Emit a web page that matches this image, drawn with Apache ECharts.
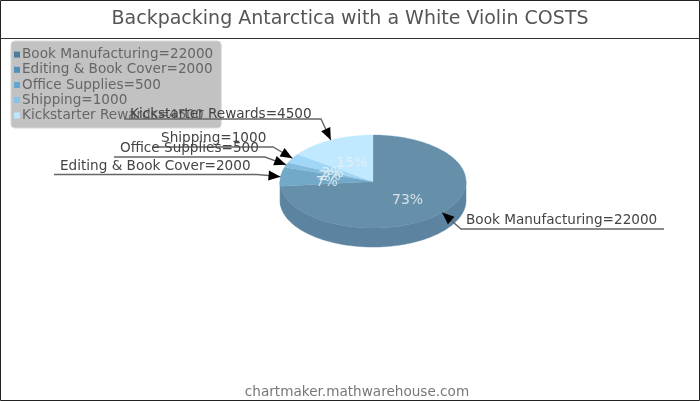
<!DOCTYPE html>
<html><head><meta charset="utf-8">
<style>html,body{margin:0;padding:0;background:#fff}#c{width:700px;height:401px}</style>
<script src="https://cdn.jsdelivr.net/npm/echarts@6/dist/echarts.min.js"></script>
</head><body><div id="c"></div>
<script>
const chartTitle = 'Backpacking Antarctica with a White Violin COSTS';
const footer = 'chartmaker.mathwarehouse.com';
const categories = ['Book Manufacturing','Editing & Book Cover','Office Supplies','Shipping','Kickstarter Rewards'];
const values = [22000,2000,500,1000,4500];
const percentLabels = ['73%','7%','2%','3%','15%'];
const topColors = ['#6690aa','#72a9c9','#83bcdf','#a0d6f6','#c0e9ff'];
const wallColors = ['#5c84a0','#5c84a0','#5c84a0','#5c84a0','#5c84a0'];
const swatchColors = ['#4a7c9c','#4f8fb8','#62a6d2','#84c4ea','#bce8ff'];
// leader layout: elbow x, line y, far end x, text x (left), text y (centre)
const leaders = [
  {elbow:[461,229], end:664, tx:466, ty:220.5},
  {elbow:[257,174.5], end:54, tx:60, ty:166.5},
  {elbow:[265,157], end:114, tx:120, ty:148.5},
  {elbow:[273,147], end:153, tx:161, ty:138.5},
  {elbow:[321,119], end:124, tx:130, ty:114.5}
];
const cx=373, cy=181.5, rx=93, ry=46.5, depth=19;
const font='"DejaVu Sans"';
const total = values.reduce((a,b)=>a+b,0);
const pt=(t,dy=0,k=1)=>{const r=t*Math.PI/180;return [cx+rx*k*Math.sin(r),cy-ry*k*Math.cos(r)+dy];};
const arc=(a,b,dy=0)=>{const n=Math.max(2,Math.ceil((b-a)/2)),o=[];for(let i=0;i<=n;i++)o.push(pt(a+(b-a)*i/n,dy));return o;};

function renderSlice(params){
  const i=params.seriesIndex;
  const a=values.slice(0,i).reduce((s,v)=>s+v,0)/total*360;
  const b=a+values[i]/total*360, mid=(a+b)/2;
  const ch=[];
  const wa=Math.max(a,90), wb=Math.min(b,270);
  if(wb>wa){
    ch.push({type:'polygon',z2:0,shape:{points:arc(wa,wb).concat(arc(wa,wb,depth).reverse())},
      style:{fill:wallColors[i],stroke:wallColors[i],lineWidth:0.5}});
  }
  ch.push({type:'polygon',z2:1,shape:{points:[[cx,cy]].concat(arc(a,b))},style:{fill:topColors[i],stroke:topColors[i],lineWidth:0.3}});
  const lp=pt(mid,3,0.5);
  ch.push({type:'text',z2:10,x:lp[0],y:lp[1],style:{text:percentLabels[i],font:'14px '+font,fill:'#e8f0f5',opacity:0.85,align:'center',verticalAlign:'middle'}});
  const L=leaders[i], tip=pt(mid);
  ch.push({type:'polyline',z2:20,shape:{points:[tip,L.elbow,[L.end,L.elbow[1]]]},style:{fill:'none',stroke:'#666',lineWidth:1.4}});
  const dx=L.elbow[0]-tip[0],dy=L.elbow[1]-tip[1],d=Math.hypot(dx,dy),ux=dx/d,uy=dy/d,al=12,aw=5;
  ch.push({type:'polygon',z2:21,shape:{points:[tip,[tip[0]+ux*al-uy*aw,tip[1]+uy*al+ux*aw],[tip[0]+ux*al+uy*aw,tip[1]+uy*al-ux*aw]]},style:{fill:'#000'}});
  ch.push({type:'text',z2:22,x:L.tx,y:L.ty,style:{text:categories[i]+'='+values[i],font:'13.6px '+font,fill:'#444',align:'left',verticalAlign:'middle'}});
  return {type:'group',children:ch};
}

const chart=echarts.init(document.getElementById('c'),null,{renderer:'canvas'});
chart.setOption({
  animation:false,
  backgroundColor:'#fff',
  title:{text:chartTitle,left:'center',top:5,textStyle:{fontFamily:font,fontSize:19,fontWeight:'normal',color:'#555'}},
  legend:{
    orient:'vertical',left:11,top:41,padding:[6,8,5,3],itemGap:0,itemWidth:6,itemHeight:6,icon:'rect',
    backgroundColor:'#c2c2c2',borderColor:'#d8d8d8',borderWidth:1,borderRadius:4,
    selectedMode:false,
    formatter:n=>n+'='+values[categories.indexOf(n)],
    textStyle:{fontFamily:font,fontSize:13.6,color:'#666',padding:[0,0,0,-3],lineHeight:15.2,height:15.2},
    data:categories.map((n,i)=>({name:n,itemStyle:{color:swatchColors[i],borderWidth:0}}))
  },
  graphic:[
    {type:'rect',z:100,silent:true,shape:{x:0.5,y:0.5,width:699,height:400},style:{fill:'none',stroke:'#222',lineWidth:1}},
    {type:'line',z:100,silent:true,shape:{x1:0,y1:38.5,x2:700,y2:38.5},style:{stroke:'#333',lineWidth:1}},
    {type:'text',z:100,silent:true,x:357,y:392,style:{text:footer,font:'13.6px '+font,fill:'#777',align:'center',verticalAlign:'middle'}}
  ],
  series:categories.map((n,i)=>({type:'custom',name:n,coordinateSystem:'none',z:5,silent:true,
    itemStyle:{color:topColors[i]},data:[values[i]],renderItem:renderSlice}))
});
</script></body></html>
